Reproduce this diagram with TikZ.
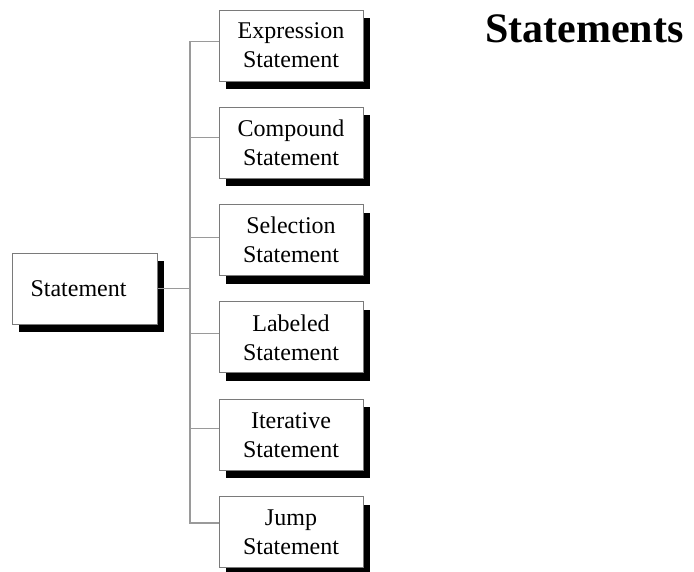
\documentclass[tikz,border=0pt]{standalone}
\usepackage{fontspec}
\setmainfont{Liberation Serif}
\usetikzlibrary{shadows}
\definecolor{linegray}{HTML}{9A9A9A}
\definecolor{edgegray}{HTML}{7A7A7A}
\tikzset{
  kindbox/.style={draw=edgegray, line width=1pt, fill=white,
    minimum width=144pt, minimum height=71pt, inner sep=0pt,
    align=center, font=\fontsize{24}{29}\selectfont,
    drop shadow={shadow xshift=7pt, shadow yshift=-8pt, opacity=1, fill=black}},
  branch/.style={draw=linegray, line width=1.2pt}
}
\begin{document}
\begin{tikzpicture}[x=1pt, y=-1pt]
  \useasboundingbox (0,0) rectangle (694,571);

  % root of the classification
  \node[kindbox, minimum width=145pt] (stmt) at (84.5,288.5) {\hspace*{-12pt}Statement};

  % the six kinds of statement
  \node[kindbox] (expr) at (291,45.5)  {Expression\\Statement};
  \node[kindbox] (comp) at (291,142.8) {Compound\\Statement};
  \node[kindbox] (sel)  at (291,240.1) {Selection\\Statement};
  \node[kindbox] (lab)  at (291,337.4) {Labeled\\Statement};
  \node[kindbox] (iter) at (291,434.7) {Iterative\\Statement};
  \node[kindbox] (jump) at (291,532)   {Jump\\Statement};

  % tree connectors: one trunk, a twig to every kind
  \coordinate (trunktop) at (190,42);
  \coordinate (trunkbot) at (190,523);
  \draw[branch] (stmt.east) -- (stmt.east -| trunktop);
  \draw[branch] ([yshift=4pt]expr.west) -| (trunktop) -- (trunkbot) |- ([yshift=9pt]jump.west);
  \draw[branch] ([yshift=5pt]comp.west) -- ++(-29,0);
  \draw[branch] ([yshift=3pt]sel.west)  -- ++(-29,0);
  \draw[branch] ([yshift=4pt]lab.west)  -- ++(-29,0);
  \draw[branch] ([yshift=6pt]iter.west) -- ++(-29,0);

  % heading
  \node[anchor=base west, inner sep=0pt, font=\fontsize{42}{48}\selectfont\bfseries]
    (title) at (485,42) {Statements};
\end{tikzpicture}
\end{document}
